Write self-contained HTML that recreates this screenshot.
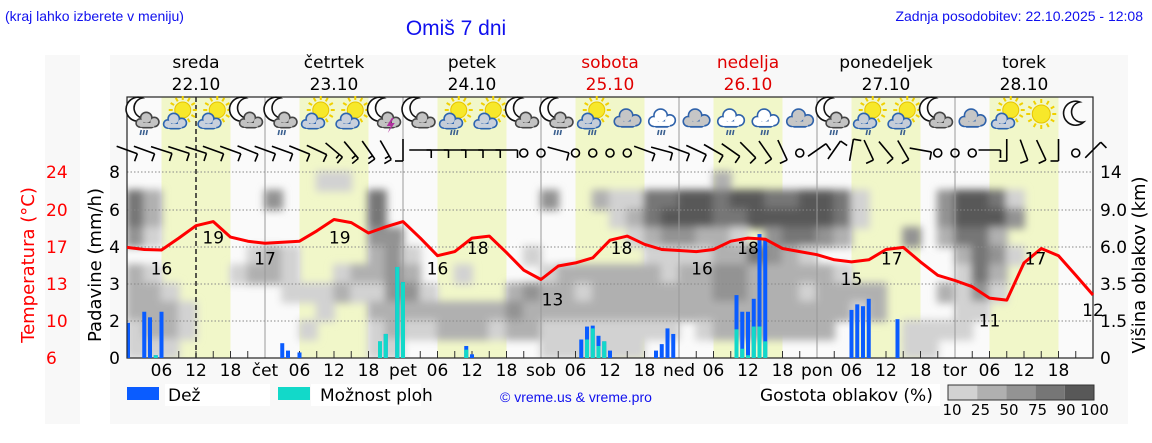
<!DOCTYPE html>
<html><head><meta charset="utf-8"><style>
html,body{margin:0;padding:0;background:#fff;}
svg{display:block;font-family:"DejaVu Sans","Liberation Sans",sans-serif;}
.top{font-family:"Liberation Sans",sans-serif;fill:#1010ee;}
</style></head><body>
<svg id="chart" width="1152" height="443" viewBox="0 0 1152 443" xmlns="http://www.w3.org/2000/svg">
<defs><filter id="blur" filterUnits="userSpaceOnUse" x="100" y="150" width="1020" height="230"><feGaussianBlur stdDeviation="4"/></filter>
<clipPath id="plotclip"><rect x="127" y="97" width="966" height="261"/></clipPath></defs>
<text class="top" x="5" y="21" font-size="14">(kraj lahko izberete v meniju)</text>
<text class="top" x="456" y="35" font-size="21" text-anchor="middle">Omiš 7 dni</text>
<text class="top" x="1143" y="21" font-size="14" text-anchor="end">Zadnja posodobitev: 22.10.2025 - 12:08</text>
<rect x="45" y="55" width="35" height="369" fill="#f8f8f8"/>
<rect x="110" y="55" width="1018" height="369" fill="#f8f8f8"/>
<g id="bg"></g>
<g clip-path="url(#plotclip)"><g id="clouds" filter="url(#blur)"></g></g>
<g id="grid"></g>
<g id="rain"></g>
<g id="temp"></g>
<g id="icons"></g>
<g id="wind"></g>
<g id="axes"></g>
<g id="legend"></g>
</svg>
<script>
const dayNames=["sreda","četrtek","petek","sobota","nedelja","ponedeljek","torek"];
const dayDates=["22.10","23.10","24.10","25.10","26.10","27.10","28.10"];
const dayAbbr=["čet","pet","sob","ned","pon","tor"];
const weekendDays=[3,4];
const rainTicks=[0,2,3,4,6,8];
const tempTicks=["6","10","13","17","20","24"];
const heightTicks=["0","1.5","3.5","6.0","9.0","14"];
const tempValues=[16.7,16.5,16.45,17.6,18.8,19.2,17.7,17.3,17.1,17.2,17.3,18.3,19.4,19.1,18.1,18.7,19.2,17.6,15.9,16.3,17.6,17.8,16.2,14.5,13.6,14.9,15.2,15.7,17.4,17.8,17.0,16.5,16.4,16.3,16.5,17.3,17.6,17.5,16.6,16.3,16.0,15.5,15.3,15.5,16.5,16.7,15.3,14.0,13.5,12.9,11.8,11.6,15.2,16.6,15.9,14.0,12.1];
const tempLabelHours=[6,15,24,37,54,61,74,86,100,108,126,133,150,158,168];
const tempLabelValues=[16,19,17,19,16,18,13,18,16,18,15,17,11,17,12];
const rainHours=[0,3,4,5,6,27,28,30,44,45,47,48,59,60,79,80,81,82,83,84,92,93,94,95,106,107,108,109,110,111,126,127,128,129,134];
const rainTotal=[1.9,2.25,2.1,0.15,2.25,0.8,0.4,0.3,0.9,1.3,3.46,3.05,0.65,0.2,1.0,1.7,1.75,1.2,0.9,0.4,0.4,0.75,1.6,1.3,2.7,2.25,2.25,2.6,4.7,4.4,2.3,2.45,2.4,2.6,2.05];
const rainShower=[0,0,0,0.15,0,0,0,0,0.9,1.3,3.46,3.05,0.45,0,0,1.0,1.6,0.65,0.9,0,0,0,0,0,1.55,0.5,0.15,1.7,1.7,0.9,0,0,0,0,0];
const cloudRows=[
"00000000000110000000000000000000002000000000000000000000",
"42000000300000400000000030021144554554455410000355410000",
"42000000000000400000000000001245554455555410000355530000",
"31000000000000330000000000000123322103443200030244200000",
"00000001210000231000000100000011112243210000000024310000",
"21000012210012232001000012222221223322222100000014200000",
"22100000011121133100002322122222223322212222000213100000",
"22210000000100222222223222222222222222222212000011000000",
"12210000001000121122212211111111012222222000011110000000",
"11100000000000110000000011111100000000000000011000000000"];
const cloudLevels=["10","25","50","75","90","100"];
const iconTypes=["mcr","sc","sc","mc","mcr","sc","sc","mt","mc","scr","sc","mc","mcr","scr","c","cr","c","cr","cr","c","mcr","scr","scr","mc","c","sc","s","m"];
const windAngle=[20,20,18,18,18,20,20,22,20,20,22,25,40,50,55,60,90,0,0,0,0,0,0,0,0,15,0,0,0,0,20,15,20,25,30,35,45,55,65,0,-35,-55,-80,65,50,60,10,0,0,0,0,90,70,65,90,0,-45];
const windSpeed=[10,10,10,10,10,10,10,10,10,10,10,10,15,15,15,15,10,10,10,10,10,10,10,0,0,5,0,0,0,0,10,10,10,10,10,10,10,10,10,0,10,10,10,10,10,10,10,0,0,0,10,10,10,10,10,0,10];

const NS="http://www.w3.org/2000/svg";
const X0=127,X1=1093,YT=97,YB=358,HPX=5.75;
const rainPix=[358,321,284,247,210,172];
const cloudColors=["none","#d2d2d2","#b0b0b0","#939393","#767676","#585858"];
function xH(h){return X0+h*HPX;}
function rainY(v){for(let i=0;i<rainTicks.length-1;i++){if(v<=rainTicks[i+1]){const a=rainTicks[i],b=rainTicks[i+1];return rainPix[i]+(v-a)/(b-a)*(rainPix[i+1]-rainPix[i]);}}return rainPix[5];}
function tempY(t){return 358-(t-6)*186/18;}
function mk(tag,attrs,parent,txt){const e=document.createElementNS(NS,tag);for(const k in attrs)e.setAttribute(k,attrs[k]);if(txt!==undefined)e.textContent=txt;parent.appendChild(e);return e;}
const g=id=>document.getElementById(id);

const bg=g('bg');
mk('rect',{x:X0,y:YT,width:X1-X0,height:YB-YT,fill:'#fafafa'},bg);
for(let d=0;d<7;d++){
 const b=mk('rect',{x:xH(d*24+6),y:YT,width:12*HPX,height:YB-YT,fill:'#f1f7c9'},bg);
 
 
}
const cg=g('clouds');
const rowH=(YB-172)/cloudRows.length;
cloudRows.forEach((row,r)=>{for(let c=0;c<row.length;c++){const lv=+row[c];if(!lv)continue;
 const cell=mk('rect',{x:xH(c*3)-1,y:172+r*rowH-1,width:3*HPX+2,height:rowH+2,fill:cloudColors[lv]},cg);
 
 
}});
const gr=g('grid');
for(let i=1;i<rainTicks.length;i++){mk('line',{x1:X0,x2:X1,y1:rainY(rainTicks[i]),y2:rainY(rainTicks[i]),stroke:'#888','stroke-width':1,'stroke-dasharray':'1.5,2'},gr);}
for(let d=1;d<7;d++){const l=mk('line',{x1:xH(d*24),x2:xH(d*24),y1:YT,y2:YB,stroke:'#999','stroke-width':1},gr);}
const now=mk('line',{x1:xH(12),x2:xH(12),y1:YT,y2:YB,stroke:'#222','stroke-width':1.5,'stroke-dasharray':'5,3'},gr);

for(let h=3;h<168;h+=3){mk('line',{x1:xH(h),x2:xH(h),y1:YB,y2:YB-(h%24===0?0:7),stroke:'#333','stroke-width':1},gr);}
mk('rect',{x:X0,y:YT,width:X1-X0,height:YB-YT,fill:'none',stroke:'#222','stroke-width':1.2},gr);
const rg=g('rain');
rainHours.forEach((h,i)=>{
 const x=Math.max(X0+0.5,xH(h)-2);
 const w=h===0?2.5:4;
 const b=mk('rect',{x:x,y:rainY(rainTotal[i]),width:w,height:YB-rainY(rainTotal[i]),fill:'#0a5cff'},rg);
 
 if(rainShower[i]>0){const s=mk('rect',{x:x,y:rainY(rainShower[i]),width:w,height:YB-rainY(rainShower[i]),fill:'#12d9c9'},rg);
 }
});
const tg=g('temp');
const pts=tempValues.map((t,i)=>xH(i*3).toFixed(1)+','+tempY(t).toFixed(1)).join(' ');
const tl=mk('polyline',{points:pts,fill:'none',stroke:'#ff0000','stroke-width':3,'stroke-linejoin':'round'},tg);

tempLabelHours.forEach((h,i)=>{const t=mk('text',{x:xH(h),y:tempY(tempLabelValues[i])+20,'font-size':17,'text-anchor':'middle',fill:'#000'},tg,String(tempLabelValues[i]));
 });
const ig=g('icons');
function cloud(p,cx,cy,s,fill,stroke){const cs=[[cx-7*s,cy+3*s,5*s],[cx-1*s,cy-2*s,6.5*s],[cx+7*s,cy+2*s,5.5*s]];
 cs.forEach(c=>mk('circle',{cx:c[0],cy:c[1],r:c[2],fill:stroke},p));
 mk('rect',{x:cx-7*s,y:cy+2*s,width:14*s,height:6.5*s,rx:3,fill:stroke},p);
 cs.forEach(c=>mk('circle',{cx:c[0],cy:c[1],r:c[2]-1.6,fill:fill},p));
 mk('rect',{x:cx-7*s,y:cy+3*s,width:14*s,height:3.9*s,fill:fill},p);}
function sun(p,cx,cy,r){for(let a=0;a<360;a+=30){const rad=a*Math.PI/180;mk('line',{x1:cx+Math.cos(rad)*(r+2),y1:cy+Math.sin(rad)*(r+2),x2:cx+Math.cos(rad)*(r+6),y2:cy+Math.sin(rad)*(r+6),stroke:'#f0d000','stroke-width':2},p);}
 mk('circle',{cx:cx,cy:cy,r:r,fill:'#f7e82a',stroke:'#e7c400','stroke-width':1},p);}
function moon(p,cx,cy){mk('path',{d:`M${cx+4},${cy-12} A12,12 0 1,0 ${cx+8},${cy+8} A10,10 0 1,1 ${cx+4},${cy-12} Z`,fill:'#fff',stroke:'#111','stroke-width':1.6},p);}
function drops(p,cx,cy,n){for(let k=0;k<n;k++)mk('line',{x1:cx-4.5+k*3+(4-n)*1.5,y1:cy,x2:cx-5.5+k*3+(4-n)*1.5,y2:cy+5,stroke:'#3a5f8f','stroke-width':1.6},p);}
iconTypes.forEach((t,i)=>{const cx=X0+17.25+34.5*i,cy=116;
 const p=mk('g',{},ig);
 if(t==='s'){sun(p,cx,cy-2,9);return;}
 if(t==='m'){moon(p,cx,cy-2);return;}
 if(t[0]==='m'){moon(p,cx-6,cy-6);cloud(p,cx+3,cy+4,1,'#c3c3c3','#444');}
 else if(t[0]==='s'){sun(p,cx+4,cy-6,8);cloud(p,cx-4,cy+5,1,t==='scr'?'#c5cdd8':'#c8d0dc','#2b64b0');}
 else {cloud(p,cx,cy+2,1.15,t==='cr'?'#fff':'#c6c6c6','#2f62aa');}
 if(t==='mcr'||t==='scr'||t==='cr')drops(p,cx,cy+14,t==='scr'&&i>20?2:3);
 if(t==='mt')mk('path',{d:`M${cx+6},${cy+2} l-5,8 h4 l-3,7 l7,-10 h-4 l3,-5z`,fill:'#b0309e'},p);
});
const wg=g('wind');
windAngle.forEach((a,i)=>{const x=xH(i*3),y=150;
 const p=mk('g',{},wg);
 if(windSpeed[i]===0){mk('circle',{cx:x,cy:y+3,r:4,fill:'none',stroke:'#000','stroke-width':1.6},p);return;}
 const r=a*Math.PI/180,L=11;
 const x1=x-Math.cos(r)*L,y1=y-Math.sin(r)*L,x2=x+Math.cos(r)*L,y2=y+Math.sin(r)*L;
 mk('line',{x1:x1,y1:y1,x2:x2,y2:y2,stroke:'#000','stroke-width':1.6},p);
 const px=-Math.sin(r),py=Math.cos(r);
 const n=windSpeed[i]>=15?2:1;
 for(let k=0;k<n;k++){const bx=x2-Math.cos(r)*k*4,by=y2-Math.sin(r)*k*4;
  mk('line',{x1:bx,y1:by,x2:bx+px*(k===1?5:8),y2:by+py*(k===1?5:8),stroke:'#000','stroke-width':1.6},p);}
});
const ax=g('axes');
for(let d=0;d<7;d++){const cx=xH(d*24+12),col=weekendDays.includes(d)?'#e00000':'#000';
 const t1=mk('text',{x:cx,y:68,'font-size':17,'text-anchor':'middle',fill:col},ax,dayNames[d]);
 const t2=mk('text',{x:cx,y:90,'font-size':17,'text-anchor':'middle',fill:col},ax,dayDates[d]);}
for(let h=6;h<168;h+=6){const lab=h%24===0?dayAbbr[h/24-1]:String(h%24).padStart(2,'0');
 const t=mk('text',{x:xH(h),y:376,'font-size':17,'text-anchor':'middle',fill:'#000'},ax,lab);}
rainTicks.forEach((v,i)=>{const t=mk('text',{x:120,y:rainPix[i]+6,'font-size':17,'text-anchor':'end',fill:'#000'},ax,String(v));
 const t2=mk('text',{x:46,y:rainPix[i]+6,'font-size':17,fill:'#ff0000'},ax,tempTicks[i]);
 const t3=mk('text',{x:1100,y:rainPix[i]+6,'font-size':17,fill:'#000'},ax,heightTicks[i]);});
const ya=mk('text',{x:0,y:0,'font-size':18,'text-anchor':'middle',fill:'#000',transform:'translate(101,265) rotate(-90)'},ax,'Padavine (mm/h)');
const yt=mk('text',{x:0,y:0,'font-size':18,'text-anchor':'middle',fill:'#ff0000',transform:'translate(34,265) rotate(-90)'},ax,'Temperatura (°C)');
const yr=mk('text',{x:0,y:0,'font-size':18,'text-anchor':'middle',fill:'#000',transform:'translate(1145,265) rotate(-90)'},ax,'Višina oblakov (km)');
const lg=g('legend');
mk('rect',{x:127,y:387,width:32,height:13,fill:'#0a5cff'},lg);
mk('rect',{x:165,y:384,width:105,height:22,fill:'#fff'},lg);
const l1=mk('text',{x:168,y:401,'font-size':17,fill:'#000'},lg,'Dež');
mk('rect',{x:278,y:387,width:32,height:13,fill:'#12d9c9'},lg);
mk('rect',{x:311,y:384,width:110,height:22,fill:'#fff'},lg);
const l2=mk('text',{x:320,y:401,'font-size':17,fill:'#000'},lg,'Možnost ploh');
const cp=mk('text',{x:500,y:402,'font-size':14,fill:'#1010ee','font-family':'Liberation Sans, sans-serif'},lg,'© vreme.us & vreme.pro');
mk('rect',{x:760,y:384,width:180,height:22,fill:'#fff'},lg);
const l3=mk('text',{x:760,y:401,'font-size':17,fill:'#000'},lg,'Gostota oblakov (%)');
for(let k=1;k<=5;k++){const r=mk('rect',{x:948+(k-1)*29.2,y:385,width:29.2,height:15,fill:cloudColors[k]},lg);}
mk('rect',{x:948,y:385,width:146,height:15,fill:'none',stroke:'#333','stroke-width':1},lg);
cloudLevels.forEach((v,k)=>{const t=mk('text',{x:952+k*28.5,y:415,'font-size':15,'text-anchor':'middle',fill:'#000'},lg,v);});
</script>
</body></html>
